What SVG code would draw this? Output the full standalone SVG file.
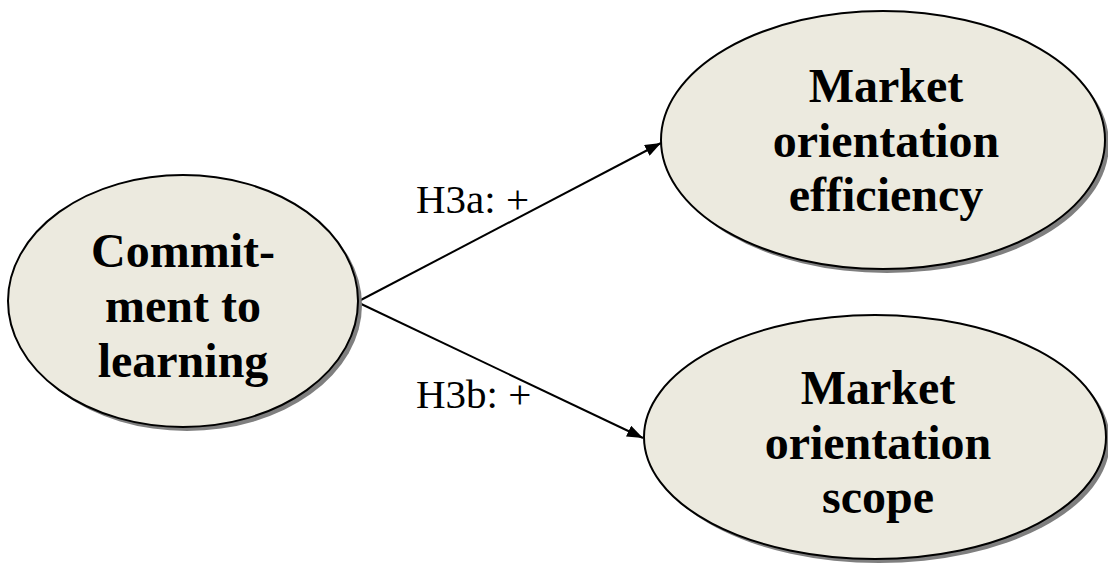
<svg xmlns="http://www.w3.org/2000/svg" width="1108" height="563" viewBox="0 0 1108 563">
<style>
.shadow{fill:#7f7f7f;stroke:none}
.node{fill:#ECEADF;stroke:#000;stroke-width:2}
.nt{font-family:"Liberation Serif","Times New Roman",serif;font-weight:bold;font-size:48px;fill:#000;text-anchor:middle}
.et{font-family:"Liberation Serif","Times New Roman",serif;font-size:41px;fill:#000}
.conn{stroke:#000;stroke-width:2;fill:none}
</style>
<defs>
<marker id="arr" markerWidth="16" markerHeight="12" refX="16" refY="6" orient="auto" markerUnits="userSpaceOnUse">
<path d="M0,0 L16,6 L0,12 Z" fill="#000"/>
</marker>
</defs>
<rect width="1108" height="563" fill="#fff"/>
<g id="connectors">
<line class="conn" x1="357" y1="302" x2="661" y2="143" marker-end="url(#arr)"/>
<line class="conn" x1="357" y1="302" x2="643" y2="438" marker-end="url(#arr)"/>
<text class="et" x="416" y="213">H3a: +</text>
<text class="et" x="416" y="408">H3b: +</text>
</g>
<g id="commitment">
<ellipse class="shadow" cx="187" cy="305" rx="175" ry="126"/>
<ellipse class="node" cx="183" cy="301" rx="175" ry="126"/>
<text class="nt" x="183" y="267">Commit-</text>
<text class="nt" x="183" y="322">ment to</text>
<text class="nt" x="183" y="377">learning</text>
</g>
<g id="efficiency">
<ellipse class="shadow" cx="887" cy="144" rx="222" ry="129"/>
<ellipse class="node" cx="883" cy="140" rx="222" ry="129"/>
<text class="nt" x="886" y="102">Market</text>
<text class="nt" x="886" y="157">orientation</text>
<text class="nt" x="886" y="211">efficiency</text>
</g>
<g id="scope">
<ellipse class="shadow" cx="879" cy="441" rx="231" ry="122"/>
<ellipse class="node" cx="875" cy="437" rx="231" ry="122"/>
<text class="nt" x="878" y="404">Market</text>
<text class="nt" x="878" y="459">orientation</text>
<text class="nt" x="878" y="513">scope</text>
</g>
</svg>
